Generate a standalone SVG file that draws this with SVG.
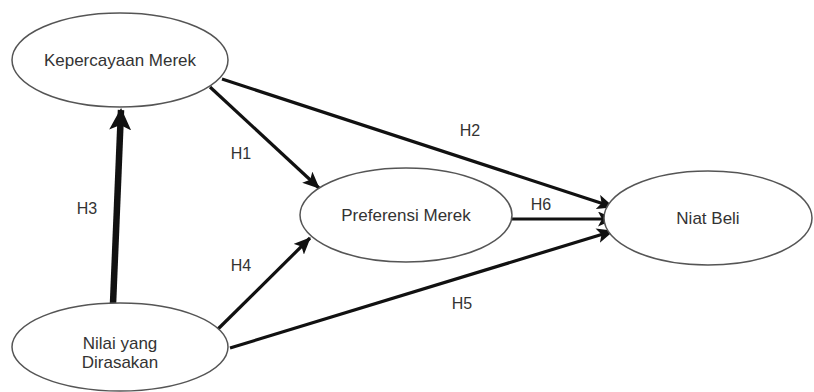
<svg xmlns="http://www.w3.org/2000/svg" width="814" height="392" viewBox="0 0 814 392">
<defs>
<style>
.node ellipse{fill:#fff;stroke:#555;stroke-width:1.5}
.node text,.lbl{font-family:"Liberation Sans",Arial,sans-serif;font-size:17px;fill:#333;text-anchor:middle}
.lbl{font-size:16px}
.edge{stroke:#111;stroke-width:3.2;fill:none}
</style>
<marker id="ah" markerUnits="userSpaceOnUse" markerWidth="17" markerHeight="15" viewBox="0 0 17 15" refX="16" refY="7.5" orient="auto">
<path d="M0,0 L17,7.5 L0,15 L4,7.5 Z" fill="#111"/>
</marker>
<marker id="ahb" markerUnits="userSpaceOnUse" markerWidth="22" markerHeight="22" viewBox="0 0 22 22" refX="20" refY="11" orient="auto">
<path d="M0,0 L22,11 L0,22 L5,11 Z" fill="#111"/>
</marker>
</defs>
<rect width="814" height="392" fill="#fff"/>
<g id="connectors">
<line class="edge" x1="113" y1="304" x2="121" y2="110" style="stroke-width:6.5" marker-end="url(#ahb)"/>
<line class="edge" x1="210" y1="87" x2="319" y2="188" marker-end="url(#ah)"/>
<line class="edge" x1="222" y1="79" x2="613" y2="207" marker-end="url(#ah)"/>
<line class="edge" x1="512" y1="219" x2="614" y2="219" marker-end="url(#ah)"/>
<line class="edge" x1="217" y1="330" x2="310" y2="238" marker-end="url(#ah)"/>
<line class="edge" x1="230" y1="348" x2="613" y2="231" marker-end="url(#ah)"/>
<text class="lbl" x="241" y="159">H1</text>
<text class="lbl" x="470" y="136">H2</text>
<text class="lbl" x="87" y="214">H3</text>
<text class="lbl" x="241" y="271">H4</text>
<text class="lbl" x="462" y="309">H5</text>
<text class="lbl" x="541" y="210">H6</text>
</g>
<g id="kepercayaan" class="node">
<ellipse cx="120" cy="60" rx="108" ry="47"/>
<text x="120" y="66">Kepercayaan Merek</text>
</g>
<g id="nilai" class="node">
<ellipse cx="120" cy="347" rx="108" ry="44"/>
<text x="120" y="349">Nilai yang</text>
<text x="120" y="368">Dirasakan</text>
</g>
<g id="preferensi" class="node">
<ellipse cx="406" cy="215" rx="106" ry="47"/>
<text x="406" y="221">Preferensi Merek</text>
</g>
<g id="niat" class="node">
<ellipse cx="708" cy="218" rx="104" ry="47"/>
<text x="708" y="224">Niat Beli</text>
</g>
</svg>
